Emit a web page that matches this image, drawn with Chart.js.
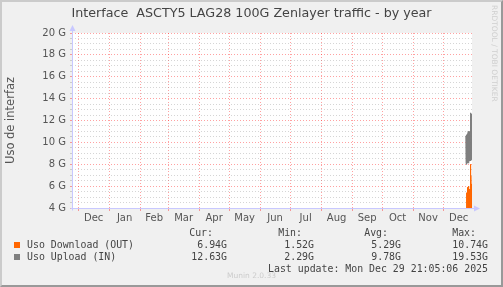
<!DOCTYPE html>
<html>
<head>
<meta charset="utf-8">
<script src="https://cdn.jsdelivr.net/npm/chart.js@4.4.0/dist/chart.umd.min.js"></script>
<style>
  html, body { margin: 0; padding: 0; background: #f0f0f0; }
  #wrap { position: relative; width: 503px; height: 287px; overflow: hidden; background: #f0f0f0; }
  #chart { position: absolute; left: 0; top: 0; }
  #frame { position: absolute; left: 0; top: 0; width: 503px; height: 287px; box-sizing: border-box;
           border-style: solid; border-width: 2px; border-color: #cbcbcb #999 #999 #cbcbcb; pointer-events: none; }
  #title { position: absolute; left: 0; top: 4px; width: 503px; text-align: center; font-family: "DejaVu Sans", sans-serif;
           font-size: 12.7px; line-height: 18px; color: #444; white-space: pre; }
  .mono { position: absolute; font-family: "DejaVu Sans Mono", monospace; font-size: 9.9px; line-height: 12px;
          color: #444; white-space: pre; }
  .sq { position: absolute; width: 6px; height: 6px; }
  #rrd { position: absolute; left: 490px; top: 5px; writing-mode: vertical-rl; font-family: "DejaVu Sans", sans-serif;
         font-size: 7.5px; color: #cfcfcf; white-space: nowrap; }
  #munin { position: absolute; left: 0; width: 503px; top: 271px; text-align: center; font-family: "DejaVu Sans", sans-serif;
           font-size: 7.5px; color: #cccccc; }
</style>
</head>
<body>
<div id="wrap">
  <canvas id="chart" width="503" height="228"></canvas>
  <div id="title">Interface  ASCTY5 LAG28 100G Zenlayer traffic - by year</div>
  <div id="legend"></div>
  <div id="rrd">RRDTOOL / TOBI OETIKER</div>
  <div id="munin">Munin 2.0.33</div>
  <div id="frame"></div>
</div>
<script>
// time range: munin year graph = last 400 days, 1 px per day
const lastUpdate = Date.UTC(2025, 11, 29, 21, 5, 6);
const rangeDays = 400;
const rangeStart = lastUpdate - rangeDays * 864e5;

const monthLabels = ['Dec', 'Jan', 'Feb', 'Mar', 'Apr', 'May', 'Jun', 'Jul', 'Aug', 'Sep', 'Oct', 'Nov', 'Dec'];
const firstMonth = [2024, 11];

// y axis (values in G)
const yMin = 4;
const yMax = 20;
const yMinorStep = 0.5;
const yMajorStep = 2;

// samples, in days since start of the graph
const sampleDays = [393.8, 394.1, 394.4, 394.7, 395.0, 395.3, 395.6, 395.9, 396.2, 396.5, 396.8,
                    397.1, 397.4, 397.7, 398.0, 398.3, 398.6, 398.9, 399.2, 399.5, 399.8, 400.0];
const downloadG = [null, null, 2.1, 5.4, 1.9, 5.6, 2.3, 5.9, 1.6, 6.0, 2.0,
                   5.7, 2.4, 5.2, 1.8, 8.0, 2.2, 5.8, 1.7, 6.2, 2.5, 6.94];
const uploadG = [10.6, 8.1, 10.7, 8.0, 10.5, 8.1, 10.8, 8.2, 11.0, 8.1, 10.9,
                 8.3, 11.0, 8.4, 10.2, 8.3, 12.7, 8.3, 12.6, 8.4, 12.4, 12.63];

// legend table
const seriesNames = ['Uso Download (OUT)', 'Uso Upload (IN)'];
const seriesColors = ['#ff6600', '#7f7f7f'];
const statHeaders = ['Cur:', 'Min:', 'Avg:', 'Max:'];
const curValues = ['6.94G', '12.63G'];
const minValues = ['1.52G', '2.29G'];
const avgValues = ['5.29G', '9.78G'];
const maxValues = ['10.74G', '19.53G'];

// month boundaries and label positions (days since start)
const monthStarts = [];
const monthMids = [];
for (let i = 0; i < monthLabels.length; i++) {
  const a = Date.UTC(firstMonth[0], firstMonth[1] + i, 1);
  const b = Date.UTC(firstMonth[0], firstMonth[1] + i + 1, 1);
  monthStarts.push((a - rangeStart) / 864e5);
  monthMids.push(((a + b) / 2 - rangeStart) / 864e5);
}

function isMajor(v) {
  return Math.abs(v / yMajorStep - Math.round(v / yMajorStep)) < 1e-6;
}
function isMonthStart(v) {
  return monthStarts.some(s => Math.abs(s - v) < 1e-6);
}

const redGrid = 'rgba(255,0,0,0.37)';
const grayGrid = 'rgba(128,128,128,0.33)';
const axisColor = '#c8c8ff';

const canvasBg = {
  id: 'canvasBg',
  beforeDraw(chart) {
    const {ctx, chartArea: a} = chart;
    ctx.save();
    ctx.fillStyle = '#ffffff';
    ctx.fillRect(a.left, a.top, a.right - a.left, a.bottom - a.top);
    ctx.restore();
  }
};

// rrdtool style axis lines with arrows
const axisArrows = {
  id: 'axisArrows',
  afterDatasetsDraw(chart) {
    const {ctx, chartArea: a} = chart;
    const x0 = Math.round(a.left) + 0.5;
    const y0 = Math.round(a.bottom) + 0.5;
    ctx.save();
    ctx.strokeStyle = axisColor;
    ctx.fillStyle = axisColor;
    ctx.lineWidth = 1;
    ctx.beginPath();
    ctx.moveTo(x0, y0 + 2);
    ctx.lineTo(x0, a.top - 4);
    ctx.moveTo(x0 - 2, y0);
    ctx.lineTo(a.right + 3, y0);
    ctx.stroke();
    ctx.beginPath();
    ctx.moveTo(x0 - 3, a.top - 2);
    ctx.lineTo(x0 + 3, a.top - 2);
    ctx.lineTo(x0, a.top - 8);
    ctx.closePath();
    ctx.fill();
    ctx.beginPath();
    ctx.moveTo(a.right + 2, y0 - 3);
    ctx.lineTo(a.right + 2, y0 + 3);
    ctx.lineTo(a.right + 8, y0);
    ctx.closePath();
    ctx.fill();
    ctx.restore();
  }
};

Chart.defaults.font.family = '"DejaVu Sans", sans-serif';
Chart.defaults.color = '#555';

new Chart(document.getElementById('chart'), {
  type: 'line',
  data: {
    datasets: [
      {
        label: seriesNames[0],
        data: sampleDays.map((d, i) => ({x: d, y: downloadG[i]})),
        borderColor: seriesColors[0],
        borderWidth: 1,
        pointRadius: 0,
        tension: 0,
        spanGaps: false
      },
      {
        label: seriesNames[1],
        data: sampleDays.map((d, i) => ({x: d, y: uploadG[i]})),
        borderColor: seriesColors[1],
        borderWidth: 1,
        pointRadius: 0,
        tension: 0,
        spanGaps: false
      }
    ]
  },
  options: {
    responsive: false,
    animation: false,
    events: [],
    layout: { padding: { left: 0, right: 31, top: 33, bottom: 0 } },
    plugins: {
      legend: { display: false },
      tooltip: { enabled: false },
      title: { display: false }
    },
    scales: {
      x: {
        type: 'linear',
        min: 0,
        max: rangeDays,
        afterBuildTicks(scale) {
          scale.ticks = monthStarts.concat(monthMids).sort((a, b) => a - b).map(v => ({value: v}));
        },
        afterFit(scale) { scale.height = 20; },
        ticks: {
          autoSkip: false,
          maxRotation: 0,
          padding: 1,
          font: { size: 10 },
          callback(value) {
            const i = monthMids.findIndex(m => Math.abs(m - value) < 1e-6);
            return i >= 0 ? monthLabels[i] : '';
          }
        },
        grid: {
          color: ctx => (ctx.tick && isMonthStart(ctx.tick.value)) ? redGrid : 'rgba(0,0,0,0)',
          tickLength: 3,
          lineWidth: 1
        },
        border: { display: false, dash: [1, 2] }
      },
      y: {
        type: 'linear',
        min: yMin,
        max: yMax,
        afterFit(scale) { scale.width = 72; },
        title: {
          display: true,
          text: 'Uso de interfaz',
          color: '#555',
          font: { size: 11.5 },
          padding: { top: 4, bottom: 0 }
        },
        ticks: {
          stepSize: yMinorStep,
          autoSkip: false,
          padding: 4,
          font: { size: 10 },
          callback(value) {
            return isMajor(value) ? value + ' G' : '';
          }
        },
        grid: {
          color: ctx => (ctx.tick && isMajor(ctx.tick.value)) ? redGrid : grayGrid,
          tickLength: 2,
          lineWidth: 1
        },
        border: { display: false, dash: [1, 2] }
      }
    }
  },
  plugins: [canvasBg, axisArrows]
});

// legend table below the graph
const legend = document.getElementById('legend');
let html = '';
const headerRight = [213, 302, 388, 476];
const valueRight = [227, 314, 401, 488];
const rowTop = [227, 239, 251];
statHeaders.forEach((h, j) => {
  html += `<div class="mono" style="right:${503 - headerRight[j]}px;top:${rowTop[0]}px">${h}</div>`;
});
const statCols = [curValues, minValues, avgValues, maxValues];
seriesNames.forEach((name, i) => {
  const top = rowTop[i + 1];
  html += `<div class="sq" style="left:14px;top:${top + 3}px;background:${seriesColors[i]}"></div>`;
  html += `<div class="mono" style="left:27px;top:${top}px">${name}</div>`;
  statCols.forEach((col, j) => {
    html += `<div class="mono" style="right:${503 - valueRight[j]}px;top:${top}px">${col[i]}</div>`;
  });
});
html += `<div class="mono" style="right:${503 - 488}px;top:263px">Last update: Mon Dec 29 21:05:06 2025</div>`;
legend.innerHTML = html;
</script>
</body>
</html>
